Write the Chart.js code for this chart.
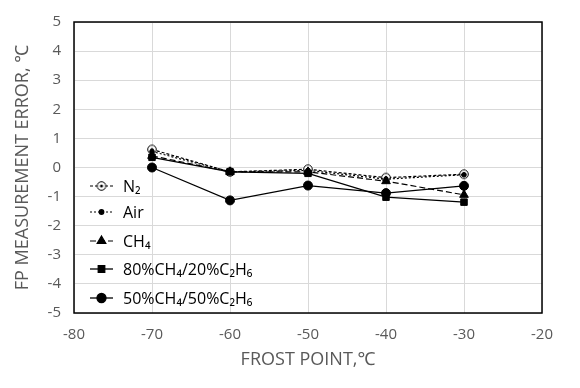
<!DOCTYPE html>
<html><head><meta charset="utf-8">
<script src="https://cdn.jsdelivr.net/npm/chart.js@4/dist/chart.umd.min.js"></script>
<style>html,body{margin:0;padding:0;background:#fff}#w{width:580px;height:388px;position:relative}</style>
</head><body><div id="w"><canvas id="c" width="580" height="388"></canvas></div>
<script>
const frostPoints = [-70, -60, -50, -40, -30];
const seriesNames = ['N\u2082', 'Air', 'CH\u2084', '80%CH\u2084/20%C\u2082H\u2086', '50%CH\u2084/50%C\u2082H\u2086'];
const n2 = [0.62, -0.15, -0.06, -0.35, -0.23];
const air = [0.55, -0.15, -0.1, -0.4, -0.25];
const ch4 = [0.4, -0.15, -0.15, -0.47, -0.94];
const mix8020 = [0.35, -0.15, -0.2, -1.02, -1.19];
const mix5050 = [0.0, -1.13, -0.62, -0.88, -0.63];
const xTicks = [-80, -70, -60, -50, -40, -30, -20];
const yTicks = [-5, -4, -3, -2, -1, 0, 1, 2, 3, 4, 5];

const FONT = '"Open Sans", "Noto Sans", sans-serif';
function dotCircle() {
  const cv = document.createElement('canvas'); cv.width = 12; cv.height = 12;
  const g = cv.getContext('2d');
  g.fillStyle = '#fff'; g.strokeStyle = '#000'; g.lineWidth = 1;
  g.beginPath(); g.arc(6, 6, 4.3, 0, Math.PI * 2); g.fill(); g.stroke();
  g.fillStyle = '#000'; g.beginPath(); g.arc(6, 6, 1.5, 0, Math.PI * 2); g.fill();
  return cv;
}
const n2Marker = dotCircle();

const seriesVals = [n2, air, ch4, mix8020, mix5050];
const styles = [
  {dash: [3, 2], ps: n2Marker, r: 6, w: 1.2},
  {dash: [2, 2], ps: 'circle', r: 2.3, w: 1.2},
  {dash: [6, 3], ps: 'triangle', r: 5, w: 1.2},
  {dash: [], ps: 'rect', r: 4.6, w: 1.3},
  {dash: [], ps: 'circle', r: 4.5, w: 1.3}
];
const datasets = seriesVals.map((vals, i) => ({
  label: seriesNames[i],
  data: frostPoints.map((x, j) => ({x: x, y: vals[j]})),
  borderColor: '#000', backgroundColor: '#000',
  borderWidth: styles[i].w, borderDash: styles[i].dash,
  pointStyle: styles[i].ps, pointRadius: styles[i].r,
  pointBackgroundColor: '#000', pointBorderColor: '#000', pointBorderWidth: 1,
  tension: 0, fill: false, order: 5 - i
}));

const framePlugin = {
  id: 'frame',
  afterDatasetsDraw(chart) {
    const {ctx, chartArea: a} = chart;
    ctx.save(); ctx.strokeStyle = '#000'; ctx.lineWidth = 1.5;
    ctx.strokeRect(a.left, a.top, a.right - a.left, a.bottom - a.top);
    ctx.restore();
  }
};
const legendPlugin = {
  id: 'inLegend',
  afterDraw(chart) {
    const ctx = chart.ctx;
    const rowY = [186, 212, 241, 269, 298];
    ctx.save();
    chart.data.datasets.forEach((ds, i) => {
      const y = rowY[i];
      ctx.strokeStyle = '#000'; ctx.lineWidth = ds.borderWidth;
      ctx.setLineDash(ds.borderDash);
      ctx.beginPath(); ctx.moveTo(90, y); ctx.lineTo(113, y); ctx.stroke();
      ctx.setLineDash([]);
      if (ds.pointStyle instanceof HTMLCanvasElement) {
        ctx.drawImage(ds.pointStyle, 101.5 - 6, y - 6);
      } else {
        ctx.fillStyle = '#000';
        Chart.helpers.drawPoint(ctx, {pointStyle: ds.pointStyle, radius: ds.pointRadius, borderWidth: 1, rotation: 0}, 101.5, y);
      }
      ctx.fillStyle = '#000'; ctx.font = '16px ' + FONT;
      ctx.textBaseline = 'middle'; ctx.textAlign = 'left';
      ctx.fillText(ds.label, 123, y + 1);
    });
    ctx.restore();
  }
};

new Chart(document.getElementById('c'), {
  type: 'line',
  data: {datasets: datasets},
  options: {
    responsive: false, animation: false, devicePixelRatio: 1,
    layout: {padding: {top: 15, right: 38, left: 8, bottom: 13}},
    plugins: {legend: {display: false}, tooltip: {enabled: false}},
    scales: {
      x: {
        type: 'linear', min: -80, max: -20,
        afterBuildTicks(s) { s.ticks = xTicks.map(v => ({value: v})); },
        afterFit(s) { s.height = 62; },
        grid: {color: '#d9d9d9', lineWidth: 1, drawTicks: false},
        border: {display: false},
        ticks: {color: '#595959', font: {size: 15, family: FONT}, padding: 13},
        title: {display: true, text: 'FROST POINT,\u2103', color: '#595959', font: {size: 18, family: FONT}, padding: {top: 0}}
      },
      y: {
        type: 'linear', min: -5, max: 5,
        afterBuildTicks(s) { s.ticks = yTicks.map(v => ({value: v})); },
        afterFit(s) { s.width = 66; },
        grid: {color: '#d9d9d9', lineWidth: 1, drawTicks: false},
        border: {display: false},
        ticks: {color: '#595959', font: {size: 15, family: FONT}, padding: 13},
        title: {display: true, text: 'FP MEASUREMENT ERROR, \u2103', color: '#595959', font: {size: 18, family: FONT}, padding: {bottom: 0}}
      }
    }
  },
  plugins: [framePlugin, legendPlugin]
});
</script></body></html>
